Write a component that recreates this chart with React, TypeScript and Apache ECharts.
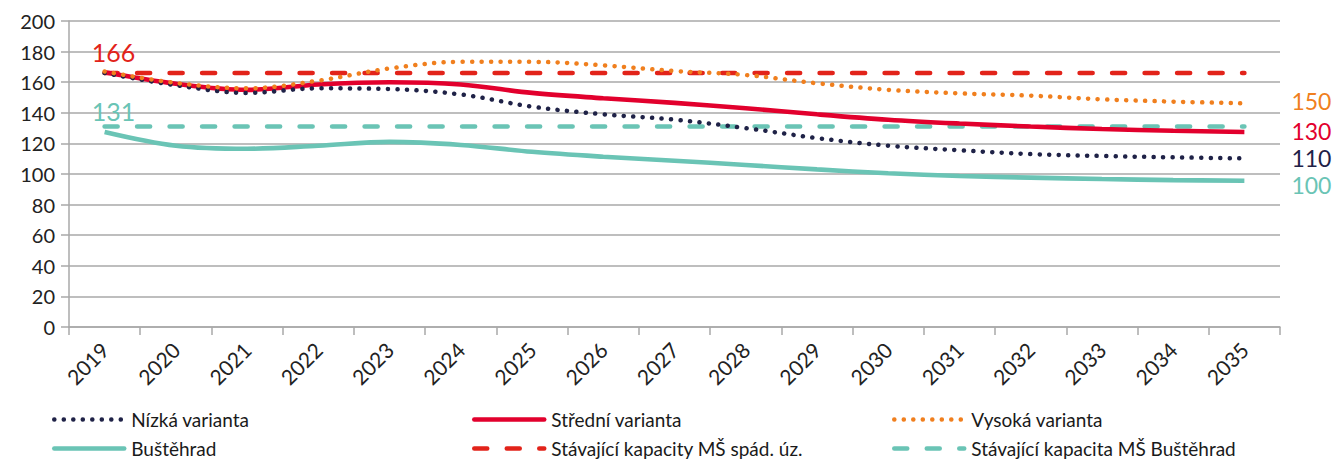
import React, { useEffect, useRef } from "react";
import * as echarts from "echarts";

const years = ["2019","2020","2021","2022","2023","2024","2025","2026","2027","2028","2029","2030","2031","2032","2033","2034","2035"];
const nizka = [166, 158, 153, 156, 155.5, 152, 144, 139, 135.5, 130, 123.5, 118.5, 115.5, 113, 111.8, 110.9, 110.2];
const stredni = [166.5, 159, 155, 158.5, 160, 158.5, 153, 149.5, 146.5, 143, 139, 135.5, 133, 131, 129.4, 128.3, 127.5];
const vysoka = [167, 159.5, 156, 161, 169, 173.3, 173.3, 171, 167.3, 164.7, 159.3, 155, 152.7, 151.2, 148.8, 147.3, 146.2];
const bustehrad = [127.5, 118.5, 116.5, 118.5, 121, 119, 114.5, 111.3, 108.7, 105.9, 103, 100.5, 98.7, 97.6, 96.7, 96, 95.6];
const kapacitaSpad = years.map(() => 166);
const kapacitaBust = years.map(() => 131);
const endLabelTexts = { nizka: "110", stredni: "130", vysoka: "150", bustehrad: "100" };
const startLabelTexts = { spad: "166", bust: "131" };

const FONT = "Lato";
const NAVY = "#1f2247";
const RED = "#e2002d";
const ORANGE = "#f07f1e";
const TEAL = "#6ac4b5";
const RED_D = "#e2231a";
const GRID = "#a9a9a9";

export default function App() {
  const ref = useRef<HTMLDivElement>(null);
  useEffect(() => {
    if (!ref.current) return;
    const chart = echarts.init(ref.current, null, { renderer: "svg" });
    const dotted = (color: string) => ({ color, width: 4.5, type: [0.1, 9.4], cap: "round" as const });
    const dashed = (color: string) => ({ color, width: 4.6, type: [13, 19.5], cap: "round" as const });
    const endLabel = (text: string, color: string, dy: number) => ({
      show: true,
      formatter: () => text,
      distance: 47,
      offset: [0, dy],
      color,
      fontSize: 23,
      lineHeight: 20,
      fontFamily: FONT,
    });
    const startLabel = (text: string, color: string, dy: number) => (v: number, i: number) =>
      i === 0
        ? {
            value: v,
            label: {
              show: true,
              position: "top",
              distance: 4,
              offset: [9, dy],
              formatter: text,
              color,
              fontSize: 25,
              lineHeight: 20,
              fontFamily: FONT,
            },
          }
        : v;
    const legendItem = (name: string, left: number, top: number, lineType: any, color: string) => ({
      data: [name],
      left,
      top,
      itemWidth: 70,
      itemHeight: 14,
      itemGap: 0,
      itemStyle: { opacity: 0 },
      lineStyle: { width: 4.5, type: lineType, color, cap: "round" },
      textStyle: { fontSize: 19, fontFamily: FONT, color: "#1a1a1a", padding: [0, 0, 0, 2] },
    });
    chart.setOption({
      animation: false,
      textStyle: { fontFamily: FONT },
      grid: { left: 69, right: 60, top: 21, bottom: 134, containLabel: false },
      legend: [
        legendItem("Nízká varianta", 47, 405, [0.1, 9.4], NAVY),
        legendItem("Střední varianta", 467, 405, "solid", RED),
        legendItem("Vysoká varianta", 887, 405, [0.1, 9.4], ORANGE),
        legendItem("Buštěhrad", 47, 434, "solid", TEAL),
        legendItem("Stávající kapacity MŠ spád. úz.", 467, 434, [13, 19.5], RED_D),
        legendItem("Stávající kapacita MŠ Buštěhrad", 887, 434, [13, 19.5], TEAL),
      ],
      xAxis: {
        type: "category",
        data: years,
        boundaryGap: true,
        axisLine: { show: true, lineStyle: { color: GRID, width: 1.5 } },
        axisTick: { show: true, interval: 0, length: 8, lineStyle: { color: GRID, width: 1.5 } },
        axisLabel: { interval: 0, rotate: 45, margin: 19, fontSize: 21, color: "#222", fontFamily: FONT },
        splitLine: { show: false },
      },
      yAxis: {
        type: "value",
        min: 0,
        max: 200,
        interval: 20,
        axisLine: { show: true, lineStyle: { color: GRID, width: 1.5 } },
        axisTick: { show: true, length: 8, lineStyle: { color: GRID, width: 1.5 } },
        axisLabel: { fontSize: 20, color: "#222", fontFamily: FONT, margin: 14 },
        splitLine: { show: true, lineStyle: { color: GRID, width: 1.5 } },
      },
      series: [
        {
          name: "Stávající kapacity MŠ spád. úz.",
          type: "line",
          data: kapacitaSpad.map(startLabel(startLabelTexts.spad, RED_D, -7)),
          symbol: "circle",
          symbolSize: 0,
          showSymbol: true,
          lineStyle: dashed(RED_D),
          itemStyle: { color: RED_D },
          z: 2,
        },
        {
          name: "Stávající kapacita MŠ Buštěhrad",
          type: "line",
          data: kapacitaBust.map(startLabel(startLabelTexts.bust, TEAL, -1.5)),
          symbol: "circle",
          symbolSize: 0,
          showSymbol: true,
          lineStyle: dashed(TEAL),
          itemStyle: { color: TEAL },
          z: 2,
        },
        {
          name: "Buštěhrad",
          type: "line",
          data: bustehrad,
          smooth: 0.35,
          symbol: "none",
          lineStyle: { color: TEAL, width: 4.6 },
          itemStyle: { color: TEAL },
          endLabel: endLabel(endLabelTexts.bustehrad, TEAL, 4),
          z: 3,
        },
        {
          name: "Střední varianta",
          type: "line",
          data: stredni,
          smooth: 0.35,
          symbol: "none",
          lineStyle: { color: RED, width: 4.6 },
          itemStyle: { color: RED },
          endLabel: endLabel(endLabelTexts.stredni, RED, -1),
          z: 3,
        },
        {
          name: "Nízká varianta",
          type: "line",
          data: nizka,
          smooth: 0.35,
          symbol: "none",
          lineStyle: dotted(NAVY),
          itemStyle: { color: NAVY },
          endLabel: endLabel(endLabelTexts.nizka, NAVY, 0),
          z: 4,
        },
        {
          name: "Vysoká varianta",
          type: "line",
          data: vysoka,
          smooth: 0.35,
          symbol: "none",
          lineStyle: dotted(ORANGE),
          itemStyle: { color: ORANGE },
          endLabel: endLabel(endLabelTexts.vysoka, ORANGE, -2),
          z: 4,
        },
      ],
    });
    return () => chart.dispose();
  }, []);
  return <div ref={ref} style={{ width: 1340, height: 461, position: "absolute", left: 0, top: 0 }} />;
}
